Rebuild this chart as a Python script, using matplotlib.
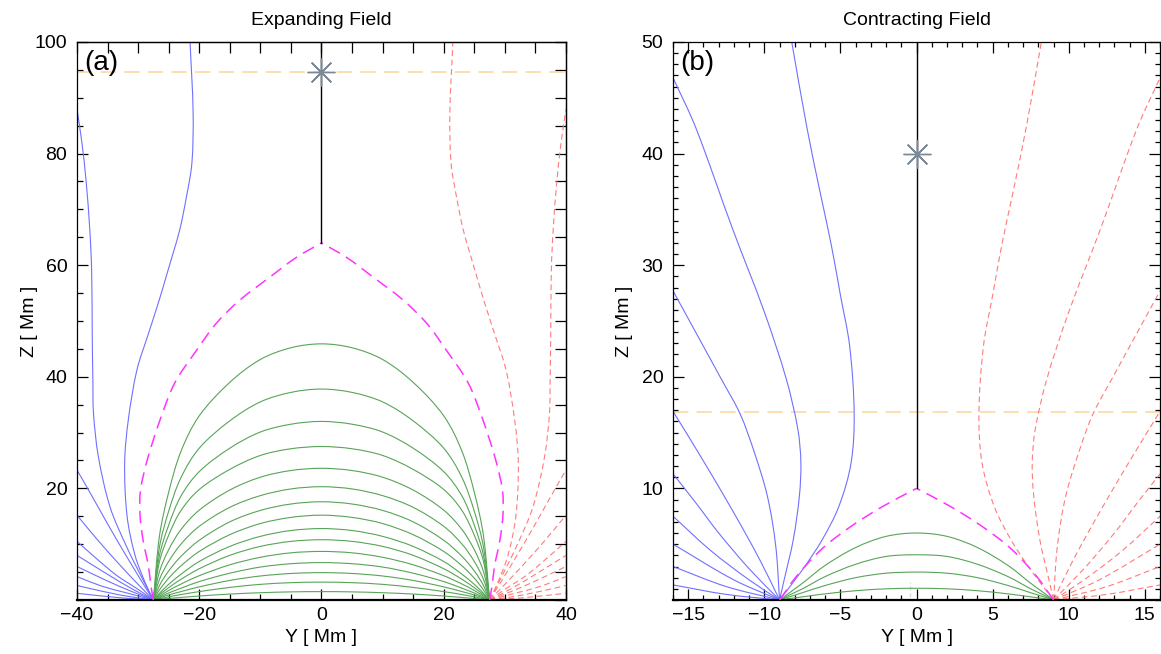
import matplotlib
matplotlib.use("Agg")
import matplotlib.pyplot as plt
from matplotlib.ticker import MultipleLocator, NullLocator
from matplotlib.path import Path
from matplotlib.patches import PathPatch

plt.rcParams['font.family'] = ['Liberation Sans', 'DejaVu Sans']
plt.rcParams['lines.scale_dashes'] = False

# ---------------- Panel (a): Expanding field (left half; right half is the mirror) -------------
A_BLUE = [
    [(-27.5, 0), (-29.2, 3.6), (-31.9, 9.6), (-34.6, 16.7), (-36.5, 25.7), (-37.3, 33.5),
     (-37.4, 39.4), (-37.5, 47), (-37.6, 59), (-37.9, 66.3), (-38.5, 75), (-39.2, 82), (-40, 88)],
    [(-27.5, 0), (-28.8, 3), (-30.5, 8), (-31.8, 15), (-32.2, 24.5), (-31.6, 32.3), (-30.2, 41.2),
     (-28.5, 47.1), (-26.7, 53.2), (-25.1, 59.1), (-23.2, 66.3), (-22.1, 72.2), (-21.2, 78.3),
     (-21.0, 87.3), (-21.5, 100)],
    [(-27.5, 0), (-29, 2.6), (-31, 6.2), (-33.5, 10.8), (-36, 15.6), (-38, 19.5), (-40, 23.3)],
    [(-27.5, 0), (-30, 2.8), (-33, 6.3), (-36.5, 10.6), (-40, 15.2)],
    [(-27.5, 0), (-30, 1.9), (-33.5, 4.4), (-37, 7.6), (-40, 10.5)],
    [(-27.5, 0), (-31, 2.0), (-35, 4.6), (-40, 8.0)],
    [(-27.5, 0), (-31, 1.5), (-35, 3.4), (-40, 6.0)],
    [(-27.5, 0), (-32, 1.3), (-36, 2.5), (-40, 4.2)],
    [(-27.5, 0), (-33, 0.9), (-40, 2.6)],
    [(-27.5, 0), (-33, 0.4), (-40, 1.2)],
]
A_SEPARATRIX = [(-27.5, 0), (-27.9, 2.5), (-28.3, 6.0), (-29.2, 10.8), (-29.7, 15.5), (-29.6, 19.7),
                (-28.5, 25.1), (-26.4, 32.3), (-24.0, 38.9), (-20.4, 44.8), (-17.2, 49.6),
                (-13.3, 53.8), (-8.4, 57.9), (-4.1, 61.4), (0, 64.0)]
A_LOOP_Y = [0, -5, -10, -15, -20, -23, -25, -26.5, -27.5]
A_LOOP_Z = [
    [45.9, 45.2, 43.1, 39.0, 33.0, 26.6, 19.3, 11.5, 0],
    [37.8, 37.2, 35.5, 32.1, 27.2, 21.9, 15.9, 9.5, 0],
    [32.0, 31.5, 30.1, 27.2, 23.0, 18.6, 13.4, 8.0, 0],
    [27.5, 27.1, 25.9, 23.4, 19.8, 16.0, 11.6, 6.9, 0],
    [23.6, 23.2, 22.0, 19.7, 16.1, 12.6, 9.0, 5.1, 0],
    [20.3, 19.9, 18.7, 16.6, 13.2, 10.0, 6.9, 3.7, 0],
    [17.6, 17.2, 16.05, 14.0, 10.7, 7.8, 5.2, 2.6, 0],
    [15.2, 14.8, 13.7, 11.7, 8.7, 6.1, 3.9, 1.8, 0],
    [12.8, 12.45, 11.4, 9.6, 6.9, 4.6, 2.8, 1.2, 0],
    [10.8, 10.5, 9.6, 8.0, 5.6, 3.7, 2.2, 0.95, 0],
    [8.7, 8.45, 7.65, 6.3, 4.35, 2.85, 1.7, 0.7, 0],
    [6.7, 6.5, 5.9, 4.8, 3.3, 2.1, 1.25, 0.5, 0],
    [4.9, 4.75, 4.3, 3.5, 2.35, 1.5, 0.9, 0.36, 0],
    [3.2, 3.1, 2.8, 2.25, 1.5, 0.97, 0.56, 0.23, 0],
    [1.5, 1.45, 1.3, 1.06, 0.71, 0.45, 0.26, 0.11, 0],
]
A_SHEET_Z = [64.0, 100]
A_XPOINT = (0, 94.6)
A_LEVEL = 94.6

# ---------------- Panel (b): Contracting field ----------------
B_BLUE = [
    [(-9, 0), (-7.5, 2.7), (-6.2, 5.4), (-5.1, 8.4), (-4.3, 12.3), (-4.1, 16.8), (-4.4, 22.8),
     (-5.0, 27.3), (-5.6, 31.8), (-6.3, 36.3), (-7.2, 42.3), (-8.2, 50)],
    [(-9, 0), (-8.7, 1.8), (-8.1, 5.4), (-7.7, 9.3), (-7.6, 12.3), (-7.8, 15.3), (-8.56, 19.8),
     (-10.0, 25.8), (-12.1, 33.3), (-14.5, 42.3), (-16, 46.8)],
    [(-9, 0), (-9.25, 4.8), (-9.8, 9.3), (-10.7, 13.4), (-11.6, 16.7), (-12.75, 19.6),
     (-16, 27.7)],
    [(-9, 0), (-10.3, 3.6), (-12.0, 7.8), (-14.2, 12.9), (-16, 16.9)],
    [(-9, 0), (-11, 2.8), (-13, 6.0), (-14.5, 8.7), (-16, 11.3)],
    [(-9, 0), (-11, 1.8), (-13.5, 4.4), (-16, 7.5)],
    [(-9, 0), (-12, 1.8), (-16, 5.0)],
    [(-9, 0), (-12.5, 1.2), (-16, 3.0)],
    [(-9, 0), (-12.5, 0.5), (-16, 1.35)],
]
B_SEPARATRIX = [(-9, 0), (-7.9, 2.1), (-6.2, 4.6), (-4.3, 6.6), (-2.2, 8.4), (0, 10.0)]
B_LOOP_Y = [0, -2, -4, -6, -7.5, -8.5, -9]
B_LOOP_Z = [
    [6.0, 5.7, 4.7, 3.1, 1.5, 0.5, 0],
    [4.05, 3.9, 3.2, 2.1, 1.0, 0.35, 0],
    [2.5, 2.4, 2.0, 1.3, 0.65, 0.22, 0],
    [1.05, 1.0, 0.83, 0.55, 0.28, 0.1, 0],
]
B_SHEET_Z = [10.0, 50]
B_XPOINT = (0, 40.0)
B_LEVEL = 16.8

BLUE = '#7070ff'
RED = '#ff7b7b'
GREEN = '#58a458'
MAGENTA = '#ff33ff'
ORANGE = '#fcd59a'
STAR = '#7a8898'

fig = plt.figure(figsize=(11.61, 6.54), dpi=100)
axA = fig.add_axes([0.0663, 0.0826, 0.4212, 0.8532])
axB = fig.add_axes([0.5797, 0.0826, 0.4195, 0.8532])


def smooth_path(ys, zs):
    """Smooth curve through the read points (chord-length Catmull-Rom as cubic Bezier)."""
    pts = list(zip(ys, zs))
    n = len(pts)
    if n < 3:
        return Path(pts)
    t = [0.0]
    for i in range(1, n):
        dx = pts[i][0] - pts[i - 1][0]
        dy = pts[i][1] - pts[i - 1][1]
        t.append(t[-1] + max((dx * dx + dy * dy) ** 0.5, 1e-9))
    tang = []
    for i in range(n):
        a = max(i - 1, 0)
        b = min(i + 1, n - 1)
        dt = t[b] - t[a]
        tang.append(((pts[b][0] - pts[a][0]) / dt, (pts[b][1] - pts[a][1]) / dt))
    verts = [pts[0]]
    codes = [Path.MOVETO]
    for i in range(n - 1):
        h = (t[i + 1] - t[i]) / 3.0
        c1 = (pts[i][0] + tang[i][0] * h, pts[i][1] + tang[i][1] * h)
        c2 = (pts[i + 1][0] - tang[i + 1][0] * h, pts[i + 1][1] - tang[i + 1][1] * h)
        verts += [c1, c2, pts[i + 1]]
        codes += [Path.CURVE4] * 3
    return Path(verts, codes)


def curve(ax, ys, zs, **kw):
    ax.add_patch(PathPatch(smooth_path(ys, zs), fill=False, **kw))


def draw(ax, blue, sep, loop_y, loop_z, sheet_z, xpoint, level, xlim, ylim):
    for line in blue:
        ys = [p[0] for p in line]
        zs = [p[1] for p in line]
        curve(ax, ys, zs, edgecolor=BLUE, lw=0.8, zorder=2)
        curve(ax, [-v for v in ys], zs, edgecolor=RED, lw=0.8, linestyle=(0, (4.2, 2.6)), zorder=2)
    for zl in loop_z:
        ys = list(loop_y[::-1]) + [-v for v in loop_y[1:]]
        zs = list(zl[::-1]) + list(zl[1:])
        curve(ax, ys, zs, edgecolor=GREEN, lw=0.8, zorder=2)
    sy = [p[0] for p in sep]
    sz = [p[1] for p in sep]
    curve(ax, sy, sz, edgecolor=MAGENTA, lw=1.1, linestyle=(0, (9.0, 5.0)), zorder=3)
    curve(ax, [-v for v in sy], sz, edgecolor=MAGENTA, lw=1.1, linestyle=(0, (9.0, 5.0)), zorder=3)
    ax.plot([0, 0], sheet_z, color='black', lw=1.0, zorder=3)
    ax.axhline(level, color=ORANGE, lw=1.1, ls=(0, (11, 6)), zorder=1)
    ax.plot([xpoint[0]], [xpoint[1]], marker=(8, 2, 0), markersize=20, color=STAR,
            mew=1.0, zorder=4)
    ax.set_xlim(*xlim)
    ax.set_ylim(*ylim)


draw(axA, A_BLUE, A_SEPARATRIX, A_LOOP_Y, A_LOOP_Z, A_SHEET_Z, A_XPOINT, A_LEVEL,
     (-40, 40), (0, 100))
draw(axB, B_BLUE, B_SEPARATRIX, B_LOOP_Y, B_LOOP_Z, B_SHEET_Z, B_XPOINT, B_LEVEL,
     (-16, 16), (0, 50))
axB.plot([-0.45, -0.45], [0.3, 1.6], color='#d8d8d8', lw=1.0, ls=(0, (3, 2)), zorder=1)


def lab(v):
    return str(v).replace('-', '\u2212')


# axes decoration
specs = [
    (axA, 'Expanding Field', '(a)', [-40, -20, 0, 20, 40], [20, 40, 60, 80, 100], 5, 5, 8, 4, -0.080),
    (axB, 'Contracting Field', '(b)', [-15, -10, -5, 0, 5, 10, 15], [10, 20, 30, 40, 50], 1, 1, 8, 3.5, -0.082),
]
for ax, title, tag, xt, yt, xm, ym, lmaj, lmin, ylx in specs:
    ax.set_xticks(xt)
    ax.set_yticks(yt)
    ax.set_xticklabels([lab(v) for v in xt])
    ax.set_yticklabels([lab(v) for v in yt])
    ax.xaxis.set_minor_locator(MultipleLocator(xm))
    ax.yaxis.set_minor_locator(MultipleLocator(ym))
    ax.tick_params(which='both', direction='in', top=True, right=True, labelsize=14,
                   width=0.9)
    ax.tick_params(axis='x', which='both', pad=5)
    ax.tick_params(axis='y', which='both', pad=7)
    ax.tick_params(which='major', length=lmaj)
    ax.tick_params(which='minor', length=lmin)
    ax.set_title(title, fontsize=14, pad=12)
    ax.set_xlabel('Y [ Mm ]', fontsize=14, labelpad=4)
    ax.set_ylabel('Z [ Mm ]', fontsize=14)
    ax.yaxis.set_label_coords(ylx, 0.5)
    ax.text(0.015, 0.985, tag, transform=ax.transAxes, fontsize=20, va='top', ha='left')
    for s in ['left', 'right', 'top']:
        ax.spines[s].set_linewidth(0.9)
    ax.spines['bottom'].set_linewidth(1.6)

# panel (a): top and right axes carry equal-length ticks every 5 Mm
axA.tick_params(which='both', top=False, right=False)
secx = axA.secondary_xaxis('top')
secx.xaxis.set_major_locator(MultipleLocator(5))
secx.xaxis.set_minor_locator(NullLocator())
secx.tick_params(direction='in', length=8, width=0.9, labeltop=False, labelbottom=False)
secx.spines['top'].set_linewidth(0.9)
secy = axA.secondary_yaxis('right')
secy.yaxis.set_major_locator(MultipleLocator(5))
secy.yaxis.set_minor_locator(NullLocator())
secy.tick_params(direction='in', length=8, width=0.9, labelright=False, labelleft=False)
secy.spines['right'].set_linewidth(0.9)

fig.savefig('out.png', dpi=100)
